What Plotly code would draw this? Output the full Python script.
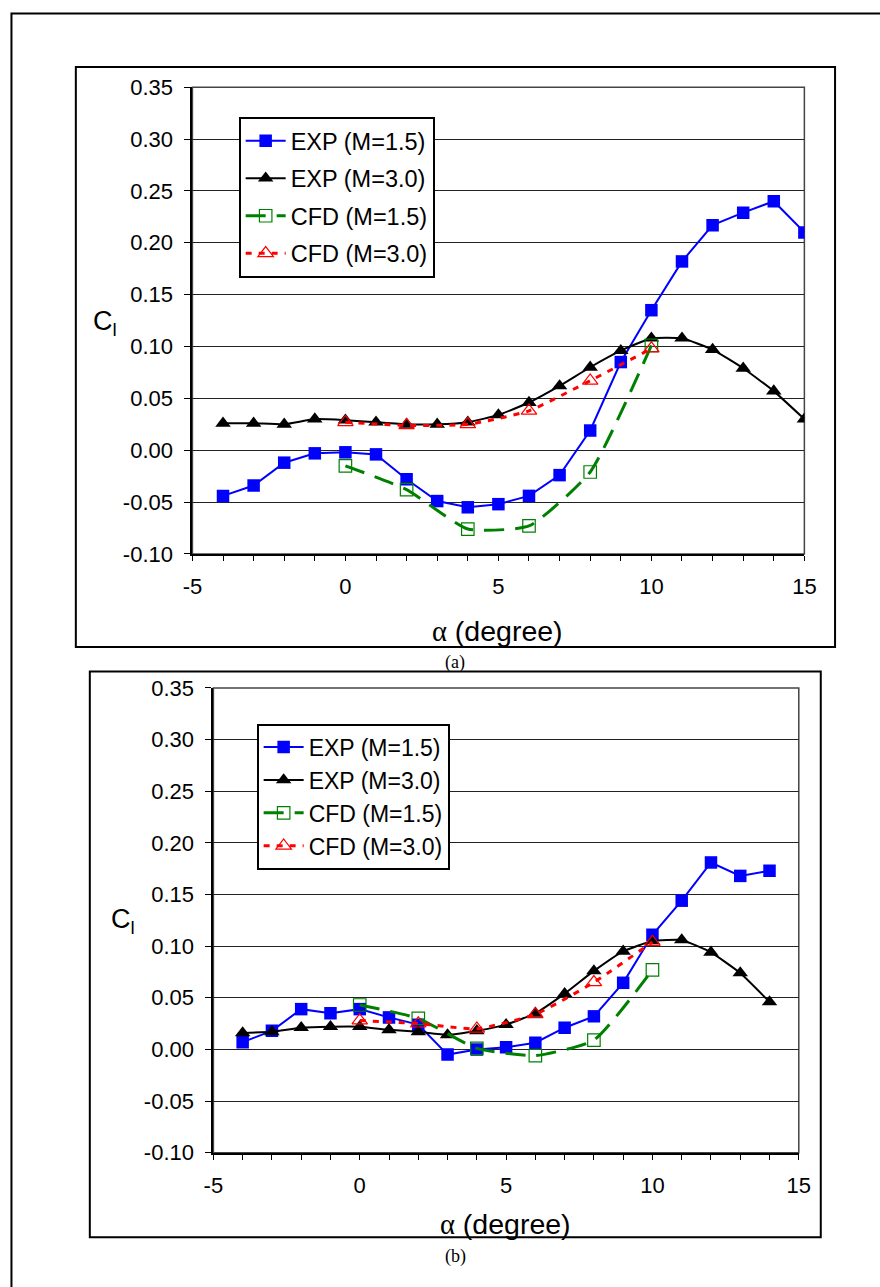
import plotly.graph_objects as go

# ---------------- data ----------------
alpha_exp_a = [-4, -3, -2, -1, 0, 1, 2, 3, 4, 5, 6, 7, 8, 9, 10, 11, 12, 13, 14, 15]
cl_exp15_a = [-0.044, -0.034, -0.012, -0.003, -0.002, -0.004, -0.028, -0.049, -0.055, -0.052,
              -0.044, -0.024, 0.019, 0.085, 0.135, 0.182, 0.217, 0.229, 0.240, 0.210]
cl_exp30_a = [0.026, 0.026, 0.025, 0.030, 0.029, 0.027, 0.025, 0.025, 0.027, 0.034,
              0.046, 0.062, 0.080, 0.096, 0.108, 0.108, 0.097, 0.079, 0.057, 0.030]
alpha_cfd_a = [0, 2, 4, 6, 8, 10]
cl_cfd15_a = [-0.015, -0.038, -0.076, -0.073, -0.021, 0.101]
cl_cfd30_a = [0.027, 0.024, 0.025, 0.038, 0.067, 0.098]

alpha_exp_b = [-4, -3, -2, -1, 0, 1, 2, 3, 4, 5, 6, 7, 8, 9, 10, 11, 12, 13, 14]
cl_exp15_b = [0.007, 0.018, 0.039, 0.035, 0.039, 0.031, 0.024, -0.005, 0.000, 0.002,
              0.0065, 0.021, 0.032, 0.0645, 0.111, 0.144, 0.181, 0.168, 0.173]
cl_exp30_b = [0.016, 0.017, 0.021, 0.022, 0.022, 0.019, 0.017, 0.014, 0.018, 0.024,
              0.035, 0.054, 0.076, 0.095, 0.105, 0.106, 0.094, 0.074, 0.046]
alpha_cfd_b = [0, 2, 4, 6, 8, 10]
cl_cfd15_b = [0.043, 0.030, 0.001, -0.006, 0.009, 0.077]
cl_cfd30_b = [0.028, 0.025, 0.020, 0.034, 0.065, 0.104]

series_names = ["EXP (M=1.5)", "EXP (M=3.0)", "CFD (M=1.5)", "CFD (M=3.0)"]
x_tick_vals = list(range(-5, 16))
x_tick_text = [str(v) if v % 5 == 0 else "" for v in x_tick_vals]
y_tick_vals = [-0.10, -0.05, 0.00, 0.05, 0.10, 0.15, 0.20, 0.25, 0.30, 0.35]
y_tick_text = ["-0.10", "-0.05", "0.00", "0.05", "0.10", "0.15", "0.20", "0.25", "0.30", "0.35"]
x_title = "<span style='font-family:Liberation Serif, Times New Roman, serif'>α</span> (degree)"
y_title = "C<sub>l</sub>"
captions = ["(a)", "(b)"]

# ---------------- layout helpers ----------------
W, H = 880, 1287
# the photographed page maps figure pixels p -> A*p + B; place items in target (photo) pixels
AX, BX = 0.976, 9.1
AY, BY = 0.981, 12.1
def px(x):
    return ((x - BX) / AX) / W
def py(y):
    return 1 - ((y - BY) / AY) / H

SANS = "Arial, 'Liberation Sans', sans-serif"
SERIF = "'Times New Roman', 'Liberation Serif', serif"

fig = go.Figure()

def add_series(xe, e15, e30, xc, c15, c30, xa, ya, leg):
    fig.add_trace(go.Scatter(x=xe, y=e15, name=series_names[0], mode="lines+markers",
                             line=dict(color="#0000FF", width=2),
                             marker=dict(symbol="square", size=12.5, color="#0000FF"),
                             xaxis=xa, yaxis=ya, legend=leg, legendgroup=leg + "g1"))
    fig.add_trace(go.Scatter(x=xe, y=e30, name=series_names[1], mode="lines+markers",
                             line=dict(color="#000000", width=2, shape="spline", smoothing=0.4),
                             marker=dict(symbol="triangle-up", size=13.5, color="#000000"),
                             xaxis=xa, yaxis=ya, legend=leg, legendgroup=leg + "g2"))
    fig.add_trace(go.Scatter(x=xc, y=c15, name=series_names[2], mode="lines+markers",
                             line=dict(color="#008000", width=3, dash="20px,11px",
                                       shape="spline", smoothing=0.5),
                             marker=dict(symbol="square-open", size=12.5, color="#008000",
                                         line=dict(width=1.2)),
                             xaxis=xa, yaxis=ya, legend=leg, legendgroup=leg + "g3"))
    fig.add_trace(go.Scatter(x=xc, y=c30, name=series_names[3], mode="lines+markers",
                             line=dict(color="#FF0000", width=3, dash="6px,7px",
                                       shape="spline", smoothing=0.5),
                             marker=dict(symbol="triangle-up-open", size=13.5, color="#FF0000",
                                         line=dict(width=1.2)),
                             xaxis=xa, yaxis=ya, legend=leg, legendgroup=leg + "g4"))

add_series(alpha_exp_a, cl_exp15_a, cl_exp30_a, alpha_cfd_a, cl_cfd15_a, cl_cfd30_a, "x", "y", "legend")
add_series(alpha_exp_b, cl_exp15_b, cl_exp30_b, alpha_cfd_b, cl_cfd15_b, cl_cfd30_b, "x2", "y2", "legend2")

def xaxis_cfg(x0, x1, anchor):
    return dict(domain=[px(x0), px(x1)], range=[-5, 15], anchor=anchor,
                tickmode="array", tickvals=x_tick_vals, ticktext=x_tick_text,
                ticks="outside", ticklen=5, tickwidth=1, tickcolor="black",
                showline=True, linewidth=2, linecolor="black",
                showgrid=False, zeroline=False, ticklabelstandoff=7,
                tickfont=dict(family=SANS, size=22, color="black"))

def yaxis_cfg(y_top, y_bot, anchor):
    return dict(domain=[py(y_bot), py(y_top)], range=[-0.10, 0.35], anchor=anchor,
                tickmode="array", tickvals=y_tick_vals, ticktext=y_tick_text,
                ticks="outside", ticklen=6, tickwidth=1, tickcolor="black",
                showline=True, linewidth=2, linecolor="black",
                showgrid=True, gridcolor="#222222", gridwidth=1,
                zeroline=False, ticklabelstandoff=7,
                tickfont=dict(family=SANS, size=22, color="black"))

def legend_cfg(x, y, size, gap):
    return dict(x=px(x), y=py(y), xanchor="left", yanchor="top",
                bgcolor="white", bordercolor="black", borderwidth=2,
                font=dict(family=SANS, size=size, color="black"),
                traceorder="grouped", tracegroupgap=gap, itemwidth=40)

fig.update_layout(
    width=W, height=H, margin=dict(l=0, r=0, t=0, b=0),
    paper_bgcolor="white", plot_bgcolor="white", showlegend=True,
    xaxis=xaxis_cfg(191.7, 804.3, "y"),
    yaxis=yaxis_cfg(87.3, 554.3, "x"),
    xaxis2=xaxis_cfg(212.7, 798.7, "y2"),
    yaxis2=yaxis_cfg(688.3, 1153.3, "x2"),
    legend=legend_cfg(238, 117, 23.5, 4),
    legend2=legend_cfg(256, 724, 23, 0),
)

shapes = [
    # outer page frame (left and top edges visible)
    dict(type="rect", xref="paper", yref="paper", x0=1.5 / W, x1=1.05, y0=-0.05, y1=1 - 1.5 / H,
         line=dict(color="black", width=2)),
    # chart frames
    dict(type="rect", xref="paper", yref="paper", x0=px(75), x1=px(835), y0=py(647.3), y1=py(67),
         line=dict(color="black", width=2)),
    dict(type="rect", xref="paper", yref="paper", x0=px(89), x1=px(820.7), y0=py(1238), y1=py(672),
         line=dict(color="black", width=2)),
    # plot area borders
    dict(type="rect", xref="x domain", yref="y domain", x0=0, x1=1, y0=0, y1=1,
         line=dict(color="#444444", width=1.5), layer="below"),
    dict(type="rect", xref="x2 domain", yref="y2 domain", x0=0, x1=1, y0=0, y1=1,
         line=dict(color="#444444", width=1.5), layer="below"),
]
fig.update_layout(shapes=shapes)

def ann(text, x, y, family, size):
    return dict(text=text, x=px(x), y=py(y), xref="paper", yref="paper", showarrow=False,
                xanchor="center", yanchor="middle",
                font=dict(family=family, size=size, color="black"))

annotations = [
    ann(x_title, 497, 631, SANS, 28.5),
    ann(x_title, 505.5, 1225, SANS, 28.5),
    ann(y_title, 104, 323, SANS, 27),
    ann(y_title, 122, 921, SANS, 27),
    ann(captions[0], 455, 663, SERIF, 18),
    ann(captions[1], 455, 1257, SERIF, 18),
]
fig.update_layout(annotations=annotations)

fig.write_html("out.html")
